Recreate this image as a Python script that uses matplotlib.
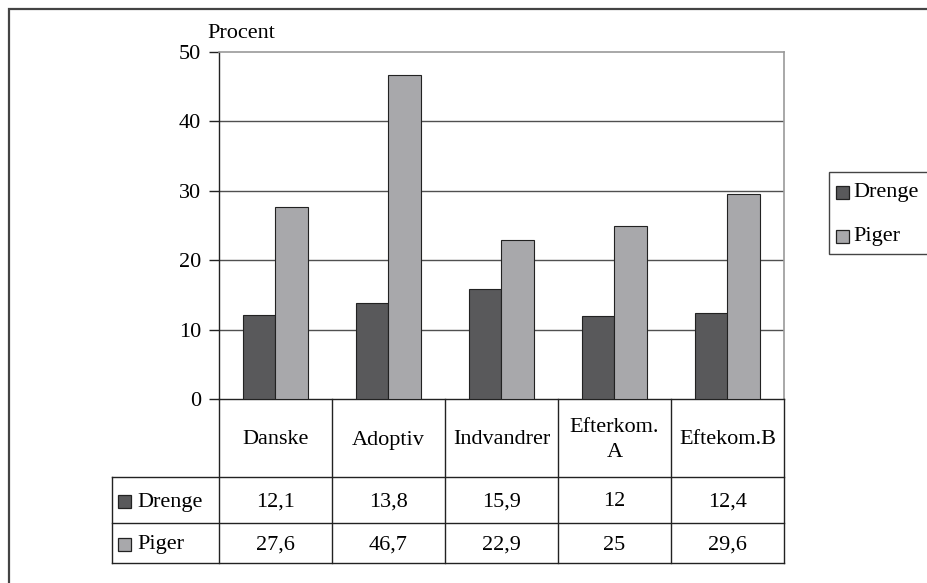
import matplotlib
matplotlib.use("Agg")
import matplotlib.pyplot as plt
from matplotlib.patches import Rectangle

categories = ["Danske", "Adoptiv", "Indvandrer", "Efterkom.\nA", "Eftekom.B"]
series_names = ["Drenge", "Piger"]
drenge = [12.1, 13.8, 15.9, 12, 12.4]
piger = [27.6, 46.7, 22.9, 25, 29.6]
drenge_labels = ["12,1", "13,8", "15,9", "12", "12,4"]
piger_labels = ["27,6", "46,7", "22,9", "25", "29,6"]
yticks = [0, 10, 20, 30, 40, 50]

colors = ["#59595b", "#a8a8ab"]
W, H = 928, 583
plt.rcParams['font.family'] = ['Liberation Serif', 'DejaVu Serif']
FS = 16

fig = plt.figure(figsize=(W / 100, H / 100), dpi=100)

# pixel geometry
axL, axR, axT, axB = 219, 784, 52, 399
tabL, row1, row2, row3 = 112, 477, 523, 563

ax = fig.add_axes([axL / W, (H - axB) / H, (axR - axL) / W, (axB - axT) / H])
n = len(categories)
xs = [i + 0.5 for i in range(n)]
bw = 0.29
ax.bar([x - bw / 2 for x in xs], drenge, width=bw, color=colors[0], edgecolor="#222222", linewidth=0.8, zorder=3)
ax.bar([x + bw / 2 for x in xs], piger, width=bw, color=colors[1], edgecolor="#222222", linewidth=0.8, zorder=3)
ax.set_xlim(0, n)
ax.set_ylim(0, 50)
ax.set_yticks(yticks)
ax.set_yticklabels([str(t) for t in yticks], fontsize=FS)
ax.set_xticks([])
ax.tick_params(axis='y', length=7, width=1, color="#222222", pad=6)
for t in yticks[1:-1]:
    ax.axhline(t, color="#505050", linewidth=1.0, zorder=1)
for s in ["left", "bottom"]:
    ax.spines[s].set_color("#222222")
    ax.spines[s].set_linewidth(1.0)
for s in ["top", "right"]:
    ax.spines[s].set_color("#9a9a9a")
    ax.spines[s].set_linewidth(1.2)
ax.text(-0.021, 1.025, "Procent", transform=ax.transAxes, fontsize=FS, ha="left", va="bottom")

# table axes in pixel-ish coordinates
unit = (axR - axL) / n
tx0 = -(axL - tabL) / unit
tab = fig.add_axes([tabL / W, (H - row3) / H, (axR - tabL) / W, (row3 - axB) / H])
tab.set_xlim(tx0, n)
tab.set_ylim(row3, axB)
tab.axis("off")
lc = "#222222"
for i in range(n + 1):
    tab.plot([i, i], [axB, row3], color=lc, linewidth=1.0, clip_on=False)
tab.plot([tx0, tx0], [row1, row3], color=lc, linewidth=1.0, clip_on=False)
for yy in [row1, row2, row3]:
    tab.plot([tx0, n], [yy, yy], color=lc, linewidth=1.0, clip_on=False)
for i, c in enumerate(categories):
    tab.text(xs[i], (axB + row1) / 2 + 2, c, ha="center", va="center", fontsize=FS, linespacing=1.45)
    tab.text(xs[i], (row1 + row2) / 2 + 2, drenge_labels[i], ha="center", va="center", fontsize=FS)
    tab.text(xs[i], (row2 + row3) / 2 + 2, piger_labels[i], ha="center", va="center", fontsize=FS)

# overlay in figure pixels
ov = fig.add_axes([0, 0, 1, 1])
ov.set_xlim(0, W)
ov.set_ylim(H, 0)
ov.axis("off")
ov.set_zorder(-1)
ov.plot([9, 9, W + 5], [H + 5, 9, 9], color="#444444", linewidth=1.6, solid_joinstyle="miter")

def key(x, y, col):
    ov.add_patch(Rectangle((x, y - 6.5), 13, 13, facecolor=col, edgecolor="#222222", linewidth=0.9))

# row labels
for name, col, yy in zip(series_names, colors, [(row1 + row2) / 2, (row2 + row3) / 2]):
    key(118, yy + 1, col)
    ov.text(137, yy + 2, name, ha="left", va="center", fontsize=FS)

# legend
ov.add_patch(Rectangle((829, 172), 120, 82, facecolor="white", edgecolor="#444444", linewidth=1.0))
for name, col, yy in zip(series_names, colors, [192, 236]):
    key(836, yy, col)
    ov.text(853, yy, name, ha="left", va="center", fontsize=FS)

fig.savefig("out.png", dpi=100)
